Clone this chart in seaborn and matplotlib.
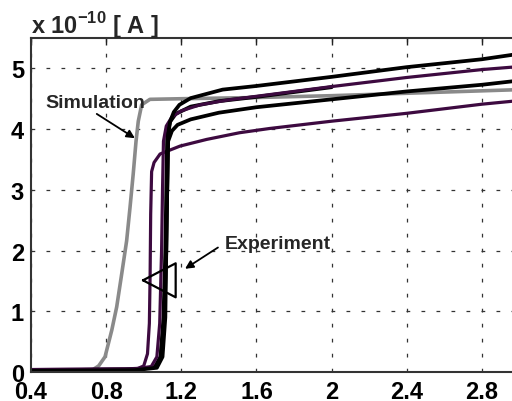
import matplotlib
matplotlib.use("Agg")
import matplotlib.pyplot as plt
import seaborn as sns

# curves (x in V, y in 1e-10 A)
sim_x = [0.40, 0.70, 0.73, 0.76, 0.794, 0.83, 0.856, 0.883, 0.909, 0.927, 0.944, 0.959, 0.971, 0.989, 1.033, 1.20, 1.60, 2.00, 2.40, 2.80, 3.00]
sim_y = [0.03, 0.03, 0.04, 0.10, 0.25, 0.69, 1.07, 1.62, 2.16, 2.71, 3.26, 3.80, 4.13, 4.40, 4.49, 4.50, 4.52, 4.55, 4.59, 4.63, 4.65]

purple1_x = [0.40, 0.90, 0.97, 1.00, 1.02, 1.03, 1.034, 1.037, 1.042, 1.055, 1.087, 1.193, 1.335, 1.51, 1.67, 2.00, 2.40, 2.80, 3.00]
purple1_y = [0.04, 0.05, 0.06, 0.10, 0.30, 0.80, 1.60, 2.60, 3.30, 3.45, 3.59, 3.72, 3.83, 3.94, 4.01, 4.13, 4.26, 4.41, 4.47]

purple2_x = [0.40, 0.95, 1.04, 1.07, 1.085, 1.095, 1.10, 1.105, 1.12, 1.15, 1.20, 1.30, 1.45, 1.60, 2.00, 2.40, 2.80, 3.00]
purple2_y = [0.04, 0.05, 0.09, 0.25, 0.80, 2.00, 3.00, 3.80, 4.05, 4.20, 4.30, 4.40, 4.48, 4.54, 4.70, 4.85, 4.98, 5.03]

blackC_x = [0.40, 0.95, 1.06, 1.09, 1.105, 1.115, 1.12, 1.125, 1.14, 1.17, 1.25, 1.40, 1.60, 2.00]
blackC_y = [0.03, 0.04, 0.08, 0.25, 0.90, 2.00, 3.00, 3.90, 4.12, 4.25, 4.37, 4.46, 4.53, 4.69]

blackB_x = [0.40, 0.95, 1.06, 1.09, 1.11, 1.12, 1.125, 1.13, 1.15, 1.18, 1.25, 1.40, 1.60, 2.00, 2.40, 2.80, 3.00]
blackB_y = [0.03, 0.04, 0.08, 0.25, 0.90, 2.00, 3.00, 3.80, 3.97, 4.07, 4.16, 4.27, 4.36, 4.49, 4.62, 4.73, 4.80]

blackA_x = [0.40, 0.95, 1.07, 1.10, 1.115, 1.12, 1.125, 1.13, 1.14, 1.16, 1.19, 1.25, 1.42, 1.60, 2.00, 2.40, 2.80, 3.00]
blackA_y = [0.02, 0.03, 0.07, 0.25, 0.90, 2.00, 3.00, 3.90, 4.12, 4.28, 4.40, 4.51, 4.65, 4.71, 4.86, 5.02, 5.15, 5.24]

x_ticks = [0.4, 0.8, 1.2, 1.6, 2, 2.4, 2.8]
x_tick_labels = ["0.4", "0.8", "1.2", "1.6", "2", "2.4", "2.8"]
y_ticks = [0, 1, 2, 3, 4, 5]

# triangle marker next to the experimental curves
tri_x = [0.996, 1.17, 1.17, 0.996]
tri_y = [1.51, 1.79, 1.23, 1.51]

sns.set_style("white")
plt.rcParams["font.family"] = ["Liberation Sans", "DejaVu Sans"]
plt.rcParams["font.weight"] = "bold"
plt.rcParams["mathtext.fontset"] = "custom"
plt.rcParams["mathtext.bf"] = "Liberation Sans:bold"
plt.rcParams["mathtext.rm"] = "Liberation Sans:bold"

fig = plt.figure(figsize=(5.12, 4.02), dpi=100)
ax = fig.add_axes([31 / 512, 29 / 402, 488.5 / 512, 334 / 402])

purple = "#3d0a40"
lw = 2.3
sns.lineplot(x=sim_x, y=sim_y, ax=ax, color="#8a8a8a", lw=lw + 0.3, sort=False, estimator=None)
sns.lineplot(x=purple1_x, y=purple1_y, ax=ax, color=purple, lw=lw, sort=False, estimator=None)
sns.lineplot(x=blackB_x, y=blackB_y, ax=ax, color="black", lw=lw + 0.4, sort=False, estimator=None)
sns.lineplot(x=blackC_x, y=blackC_y, ax=ax, color="black", lw=lw + 0.4, sort=False, estimator=None)
sns.lineplot(x=purple2_x, y=purple2_y, ax=ax, color=purple, lw=lw, sort=False, estimator=None)
sns.lineplot(x=blackA_x, y=blackA_y, ax=ax, color="black", lw=lw + 0.4, sort=False, estimator=None)

ax.plot(tri_x, tri_y, color="black", lw=1.6)

ax.set_xlim(0.4, 3.0)
ax.set_ylim(0, 5.5)
ax.set_xticks(x_ticks)
ax.set_xticklabels(x_tick_labels)
ax.set_yticks(y_ticks)
ax.set_xlabel("")
ax.set_ylabel("")
ax.tick_params(direction="in", top=True, right=True, length=5, width=1,
               labelsize=17, pad=6, colors="#222222", labelcolor="black")
ax.tick_params(axis="y", pad=5)
for lab in ax.get_xticklabels() + ax.get_yticklabels():
    lab.set_fontweight("bold")

ax.grid(True, color="#333333", linestyle=(0, (3, 9)), linewidth=0.9)
for s in ax.spines.values():
    s.set_color("#333333")
    s.set_linewidth(1.5)

arrow = dict(arrowstyle="-|>", color="black", lw=1.3, shrinkA=0, shrinkB=0,
             mutation_scale=12)
ax.text(0.475, 4.44, "Simulation", fontsize=14, fontweight="bold", va="center", ha="left")
ax.annotate("", xy=(0.953, 3.85), xytext=(0.75, 4.25), arrowprops=arrow)
ax.text(1.43, 2.11, "Experiment", fontsize=14, fontweight="bold", va="center", ha="left")
ax.annotate("", xy=(1.22, 1.70), xytext=(1.395, 2.05), arrowprops=arrow)

fig.text(31 / 512, 1 - 34 / 402, r"x 10$^{\mathbf{-10}}$ [ A ]", fontsize=17,
         fontweight="bold", ha="left", va="baseline")

fig.savefig("out.png", dpi=100)
